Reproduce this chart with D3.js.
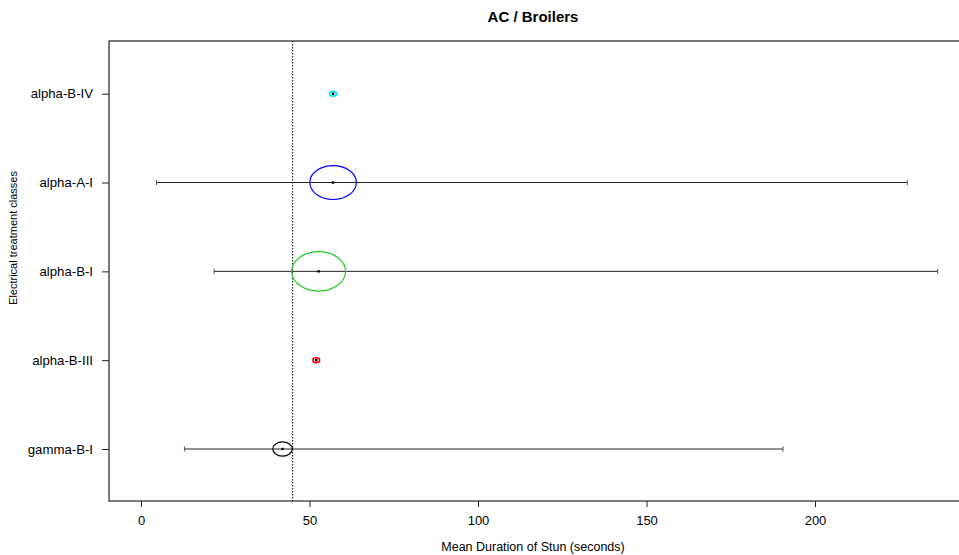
<!DOCTYPE html>
<html>
<head>
<meta charset="utf-8">
<script src="https://cdn.jsdelivr.net/npm/d3@7"></script>
<style>
  html, body { margin: 0; padding: 0; background: #fff; }
  svg { display: block; font-family: "Liberation Sans", Arial, Helvetica, sans-serif; }
</style>
</head>
<body>
<svg id="chart" width="959" height="555"></svg>
<script>
// ---- data (bottom to top) ----
const categories = ["gamma-B-I", "alpha-B-III", "alpha-B-I", "alpha-A-I", "alpha-B-IV"];
const means      = [42.0, 52.0, 52.7, 57.0, 57.0];
const lowers     = [12.9, null, 21.7, 4.6, null];
const uppers     = [190.5, null, 236.4, 227.4, null];
const radii      = [2.9, 1.0, 8.0, 6.9, 1.0];   // circle radius in x-units
const colors     = ["#000000", "#ff0000", "#22cc22", "#0000ff", "#00e5ee"];
const refValue   = 45;
const xTicks     = [0, 50, 100, 150, 200];
const title      = "AC / Broilers";
const xTitle     = "Mean Duration of Stun (seconds)";
const yTitle     = "Electrical treatment classes";

// ---- layout ----
const svg = d3.select("#chart");
const box = { left: 109, top: 41, right: 962, bottom: 501 };

const x = d3.scaleLinear().domain([0, 200]).range([141, 815]);
const y = d3.scalePoint().domain(categories).range([449, 93.7]);

// frame
svg.append("rect")
  .attr("x", box.left).attr("y", box.top)
  .attr("width", box.right - box.left).attr("height", box.bottom - box.top)
  .attr("fill", "none").attr("stroke", "#222").attr("stroke-width", 1.2);

// x axis
const xa = svg.append("g")
  .attr("transform", `translate(0,${box.bottom})`)
  .call(d3.axisBottom(x).tickValues(xTicks).tickSize(6).tickPadding(9));
xa.select(".domain").remove();
xa.selectAll("line").attr("stroke", "#222");
xa.selectAll("text").attr("font-size", 13).attr("fill", "#000").attr("font-family", "Liberation Sans, Arial, sans-serif");

// y axis
const ya = svg.append("g")
  .attr("transform", `translate(${box.left},0)`)
  .call(d3.axisLeft(y).tickSize(7).tickPadding(9));
ya.select(".domain").remove();
ya.selectAll("line").attr("stroke", "#222");
ya.selectAll("text").attr("font-size", 13.2).attr("fill", "#000").attr("font-family", "Liberation Sans, Arial, sans-serif");

// reference dotted line
svg.append("line")
  .attr("x1", x(refValue)).attr("x2", x(refValue))
  .attr("y1", box.top).attr("y2", box.bottom)
  .attr("stroke", "#000").attr("stroke-width", 1)
  .attr("stroke-dasharray", "1.5,1.5");

const rows = categories.map((c, i) => ({
  cat: c, mean: means[i], lo: lowers[i], hi: uppers[i], r: radii[i], color: colors[i]
}));

// error bars
const eb = rows.filter(d => d.lo !== null);
svg.selectAll(".bar").data(eb).join("line")
  .attr("x1", d => x(d.lo)).attr("x2", d => x(d.hi))
  .attr("y1", d => y(d.cat)).attr("y2", d => y(d.cat))
  .attr("stroke", "#222").attr("stroke-width", 1);
["lo", "hi"].forEach(k => {
  svg.selectAll(".cap-" + k).data(eb).join("line")
    .attr("x1", d => x(d[k])).attr("x2", d => x(d[k]))
    .attr("y1", d => y(d.cat) - 2.5).attr("y2", d => y(d.cat) + 2.5)
    .attr("stroke", "#555").attr("stroke-width", 1);
});

// circles (ellipses in user coordinates)
svg.selectAll(".circ").data(rows).join("ellipse")
  .attr("cx", d => x(d.mean)).attr("cy", d => y(d.cat))
  .attr("rx", d => x(d.mean + d.r) - x(d.mean))
  .attr("ry", d => (x(d.mean + d.r) - x(d.mean)) * 0.73)
  .attr("fill", "none").attr("stroke", d => d.color)
  .attr("stroke-width", d => d.r < 2 ? 1.6 : 1.2);

// centre dots
svg.selectAll(".dot").data(rows).join("rect")
  .attr("x", d => x(d.mean) - 1.2).attr("y", d => y(d.cat) - 1.2)
  .attr("width", 2.4).attr("height", 2.4).attr("fill", "#000");

// titles
svg.append("text").attr("x", 533).attr("y", 22)
  .attr("text-anchor", "middle").attr("font-size", 15).attr("font-weight", "bold")
  .text(title);
svg.append("text").attr("x", 533).attr("y", 551)
  .attr("text-anchor", "middle").attr("font-size", 12.5)
  .text(xTitle);
svg.append("text")
  .attr("transform", "translate(17,238) rotate(-90)")
  .attr("text-anchor", "middle").attr("font-size", 11)
  .text(yTitle);
</script>
</body>
</html>
